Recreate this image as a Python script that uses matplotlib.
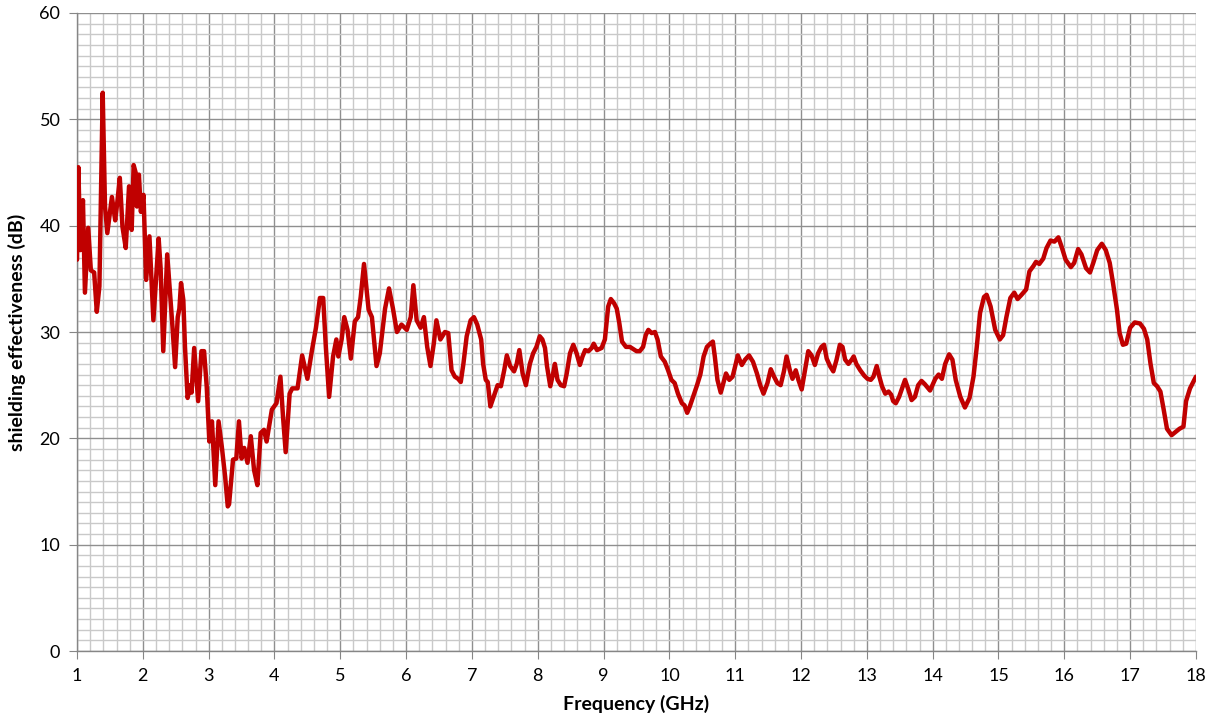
import matplotlib
matplotlib.use('Agg')
import matplotlib.pyplot as plt
from matplotlib.ticker import MultipleLocator

freq_ghz = [
    1.00, 1.02, 1.05, 1.09, 1.12, 1.17, 1.21, 1.26, 1.30, 1.34, 1.39, 1.425, 1.46, 1.53, 1.58, 1.61,
    1.65, 1.69, 1.74, 1.79, 1.83, 1.86, 1.89, 1.91, 1.94, 1.97, 2.01, 2.05, 2.10, 2.16, 2.24, 2.27,
    2.31, 2.37, 2.42, 2.45, 2.49, 2.53, 2.555, 2.58, 2.615, 2.64, 2.68, 2.72, 2.74, 2.78, 2.84, 2.89,
    2.93, 2.97, 3.01, 3.05, 3.10, 3.15, 3.20, 3.25, 3.29, 3.31, 3.37, 3.42, 3.46, 3.50, 3.54, 3.59,
    3.64, 3.69, 3.74, 3.79, 3.84, 3.88, 3.96, 4.03, 4.09, 4.13, 4.17, 4.23, 4.27, 4.35, 4.42, 4.50,
    4.57, 4.63, 4.69, 4.74, 4.78, 4.83, 4.89, 4.94, 4.97, 5.02, 5.06, 5.11, 5.16, 5.22, 5.27, 5.31,
    5.36, 5.43, 5.48, 5.55, 5.60, 5.68, 5.74, 5.80, 5.86, 5.93, 6.01, 6.07, 6.11, 6.16, 6.22, 6.27,
    6.32, 6.37, 6.42, 6.46, 6.52, 6.59, 6.64, 6.69, 6.74, 6.79, 6.83, 6.87, 6.92, 6.98, 7.03, 7.08,
    7.14, 7.17, 7.21, 7.24, 7.28, 7.34, 7.39, 7.44, 7.49, 7.53, 7.58, 7.64, 7.68, 7.72, 7.77, 7.82,
    7.88, 7.93, 7.98, 8.03, 8.07, 8.11, 8.14, 8.19, 8.23, 8.26, 8.30, 8.35, 8.40, 8.44, 8.49, 8.54,
    8.59, 8.64, 8.68, 8.72, 8.77, 8.82, 8.85, 8.90, 8.97, 9.02, 9.07, 9.11, 9.16, 9.20, 9.24, 9.28,
    9.34, 9.40, 9.45, 9.50, 9.55, 9.60, 9.64, 9.68, 9.73, 9.78, 9.82, 9.87, 9.93, 9.98, 10.03, 10.08,
    10.13, 10.19, 10.23, 10.27, 10.31, 10.36, 10.42, 10.47, 10.52, 10.57, 10.62, 10.66, 10.69, 10.73, 10.78, 10.82,
    10.86, 10.91, 10.96, 11.00, 11.04, 11.10, 11.15, 11.21, 11.27, 11.33, 11.38, 11.43, 11.49, 11.54, 11.59, 11.64,
    11.69, 11.74, 11.78, 11.83, 11.87, 11.92, 11.96, 12.01, 12.06, 12.11, 12.16, 12.21, 12.26, 12.31, 12.35, 12.39,
    12.44, 12.49, 12.54, 12.59, 12.63, 12.67, 12.72, 12.77, 12.80, 12.84, 12.90, 12.96, 13.01, 13.06, 13.10, 13.15,
    13.19, 13.23, 13.28, 13.33, 13.37, 13.40, 13.44, 13.49, 13.54, 13.58, 13.63, 13.68, 13.73, 13.78, 13.83, 13.88,
    13.96, 14.04, 14.09, 14.14, 14.19, 14.25, 14.30, 14.35, 14.42, 14.49, 14.56, 14.62, 14.67, 14.72, 14.78, 14.82,
    14.88, 14.95, 15.02, 15.07, 15.12, 15.18, 15.24, 15.29, 15.35, 15.42, 15.47, 15.53, 15.57, 15.62, 15.68, 15.73,
    15.79, 15.85, 15.91, 15.96, 16.02, 16.10, 16.15, 16.21, 16.26, 16.33, 16.39, 16.44, 16.50, 16.57, 16.63, 16.69,
    16.74, 16.80, 16.84, 16.89, 16.94, 17.00, 17.07, 17.15, 17.21, 17.26, 17.31, 17.36, 17.41, 17.46, 17.51, 17.56,
    17.63, 17.69, 17.75, 17.81, 17.85, 17.91, 18.00,
]
shielding_db = [
    36.8, 45.5, 37.7, 42.4, 33.7, 39.8, 35.8, 35.6, 31.9, 34.3, 52.5, 41.8, 39.3, 42.7, 40.5, 42.1,
    44.5, 39.9, 37.9, 43.7, 39.6, 45.7, 45.0, 41.8, 44.8, 41.3, 42.9, 34.9, 39.0, 31.1, 38.8, 36.0,
    28.2, 37.3, 33.0, 30.5, 26.7, 31.4, 32.2, 34.6, 33.0, 28.6, 23.8, 25.0, 24.3, 28.5, 23.5, 28.2,
    28.2, 24.9, 19.7, 21.6, 15.6, 21.6, 19.2, 16.4, 13.6, 13.8, 18.0, 18.1, 21.6, 18.1, 19.1, 17.7,
    20.2, 17.0, 15.6, 20.5, 20.8, 19.7, 22.7, 23.3, 25.8, 22.0, 18.7, 24.2, 24.7, 24.7, 27.8, 25.6,
    28.3, 30.4, 33.2, 33.2, 28.6, 23.9, 27.7, 29.3, 27.7, 29.3, 31.4, 30.2, 27.5, 31.0, 31.4, 33.3,
    36.4, 32.1, 31.4, 26.8, 28.0, 32.2, 34.1, 32.2, 30.0, 30.7, 30.2, 31.4, 34.4, 31.1, 30.4, 31.4,
    28.6, 26.8, 28.9, 31.1, 29.3, 30.0, 29.9, 26.4, 25.8, 25.6, 25.3, 27.0, 29.6, 31.1, 31.4, 30.7,
    29.3, 27.0, 25.5, 25.3, 23.0, 24.1, 25.0, 24.9, 26.4, 27.8, 26.8, 26.3, 27.0, 28.3, 26.1, 25.0,
    27.0, 28.0, 28.6, 29.6, 29.3, 28.5, 26.8, 24.9, 26.0, 27.0, 25.5, 25.0, 24.9, 26.1, 28.0, 28.8,
    28.0, 26.9, 27.7, 28.3, 28.2, 28.5, 28.9, 28.3, 28.5, 29.3, 32.4, 33.1, 32.7, 32.2, 30.8, 29.1,
    28.6, 28.6, 28.4, 28.2, 28.2, 28.6, 29.7, 30.2, 29.9, 30.0, 29.3, 27.7, 27.2, 26.4, 25.5, 25.2,
    24.2, 23.3, 23.1, 22.4, 23.0, 23.9, 25.0, 26.0, 27.7, 28.6, 28.9, 29.1, 27.7, 25.5, 24.3, 25.2,
    26.1, 25.5, 25.8, 26.8, 27.8, 26.9, 27.4, 27.8, 27.2, 26.1, 25.0, 24.2, 25.2, 26.5, 25.8, 25.2,
    25.0, 26.3, 27.7, 26.4, 25.6, 26.4, 25.5, 24.6, 26.4, 28.2, 27.8, 26.9, 28.0, 28.6, 28.8, 27.5,
    26.8, 26.3, 27.4, 28.8, 28.6, 27.4, 27.0, 27.4, 27.7, 27.0, 26.4, 25.9, 25.6, 25.5, 25.8, 26.8,
    25.8, 24.9, 24.2, 24.4, 24.1, 23.5, 23.3, 23.9, 24.8, 25.5, 24.6, 23.6, 23.9, 25.0, 25.4, 25.1,
    24.5, 25.6, 26.0, 25.6, 27.0, 27.9, 27.4, 25.5, 23.9, 22.9, 23.8, 25.8, 28.6, 31.8, 33.3, 33.5,
    32.4, 30.2, 29.3, 29.7, 31.4, 33.2, 33.7, 33.1, 33.5, 34.0, 35.7, 36.2, 36.6, 36.4, 36.9, 37.9,
    38.6, 38.5, 38.9, 38.0, 36.8, 36.1, 36.5, 37.8, 37.3, 36.0, 35.6, 36.5, 37.7, 38.3, 37.7, 36.5,
    34.6, 32.1, 29.9, 28.8, 28.9, 30.4, 30.9, 30.8, 30.3, 29.3, 27.0, 25.2, 24.9, 24.4, 22.7, 20.9,
    20.3, 20.6, 20.9, 21.1, 23.5, 24.7, 25.8,
]

x_range = [1, 18]
y_range = [0, 60]
x_label = 'Frequency (GHz)'
y_label = 'shielding effectiveness (dB)'

plt.rcParams['font.family'] = ['Lato', 'DejaVu Sans']

fig = plt.figure(figsize=(12.17, 7.22), dpi=100)
ax = fig.add_axes([0.0633, 0.0983, 0.9194, 0.8837])

ax.plot(freq_ghz, shielding_db, color='#C00000', linewidth=3.2,
        solid_joinstyle='round', solid_capstyle='round', zorder=3)

ax.set_xlim(x_range)
ax.set_ylim(y_range)
ax.xaxis.set_major_locator(MultipleLocator(1))
ax.xaxis.set_minor_locator(MultipleLocator(0.2))
ax.yaxis.set_major_locator(MultipleLocator(10))
ax.yaxis.set_minor_locator(MultipleLocator(1))

ax.grid(which='major', color='#8f8f8f', linewidth=1.0)
ax.grid(which='minor', color='#c9c9c9', linewidth=1.0)
ax.set_axisbelow(True)

for side in ['top', 'right']:
    ax.spines[side].set_visible(False)
for side in ['left', 'bottom']:
    ax.spines[side].set_color('#868686')
    ax.spines[side].set_linewidth(1.0)

ax.tick_params(which='major', length=6, color='#868686', labelsize=13, pad=6)
ax.tick_params(which='minor', length=0)

ax.set_xlabel(x_label, fontsize=14, fontweight='bold', labelpad=8)
ax.set_ylabel(y_label, fontsize=14, fontweight='bold', labelpad=10)

fig.savefig('out.png', dpi=100)
plt.close(fig)
